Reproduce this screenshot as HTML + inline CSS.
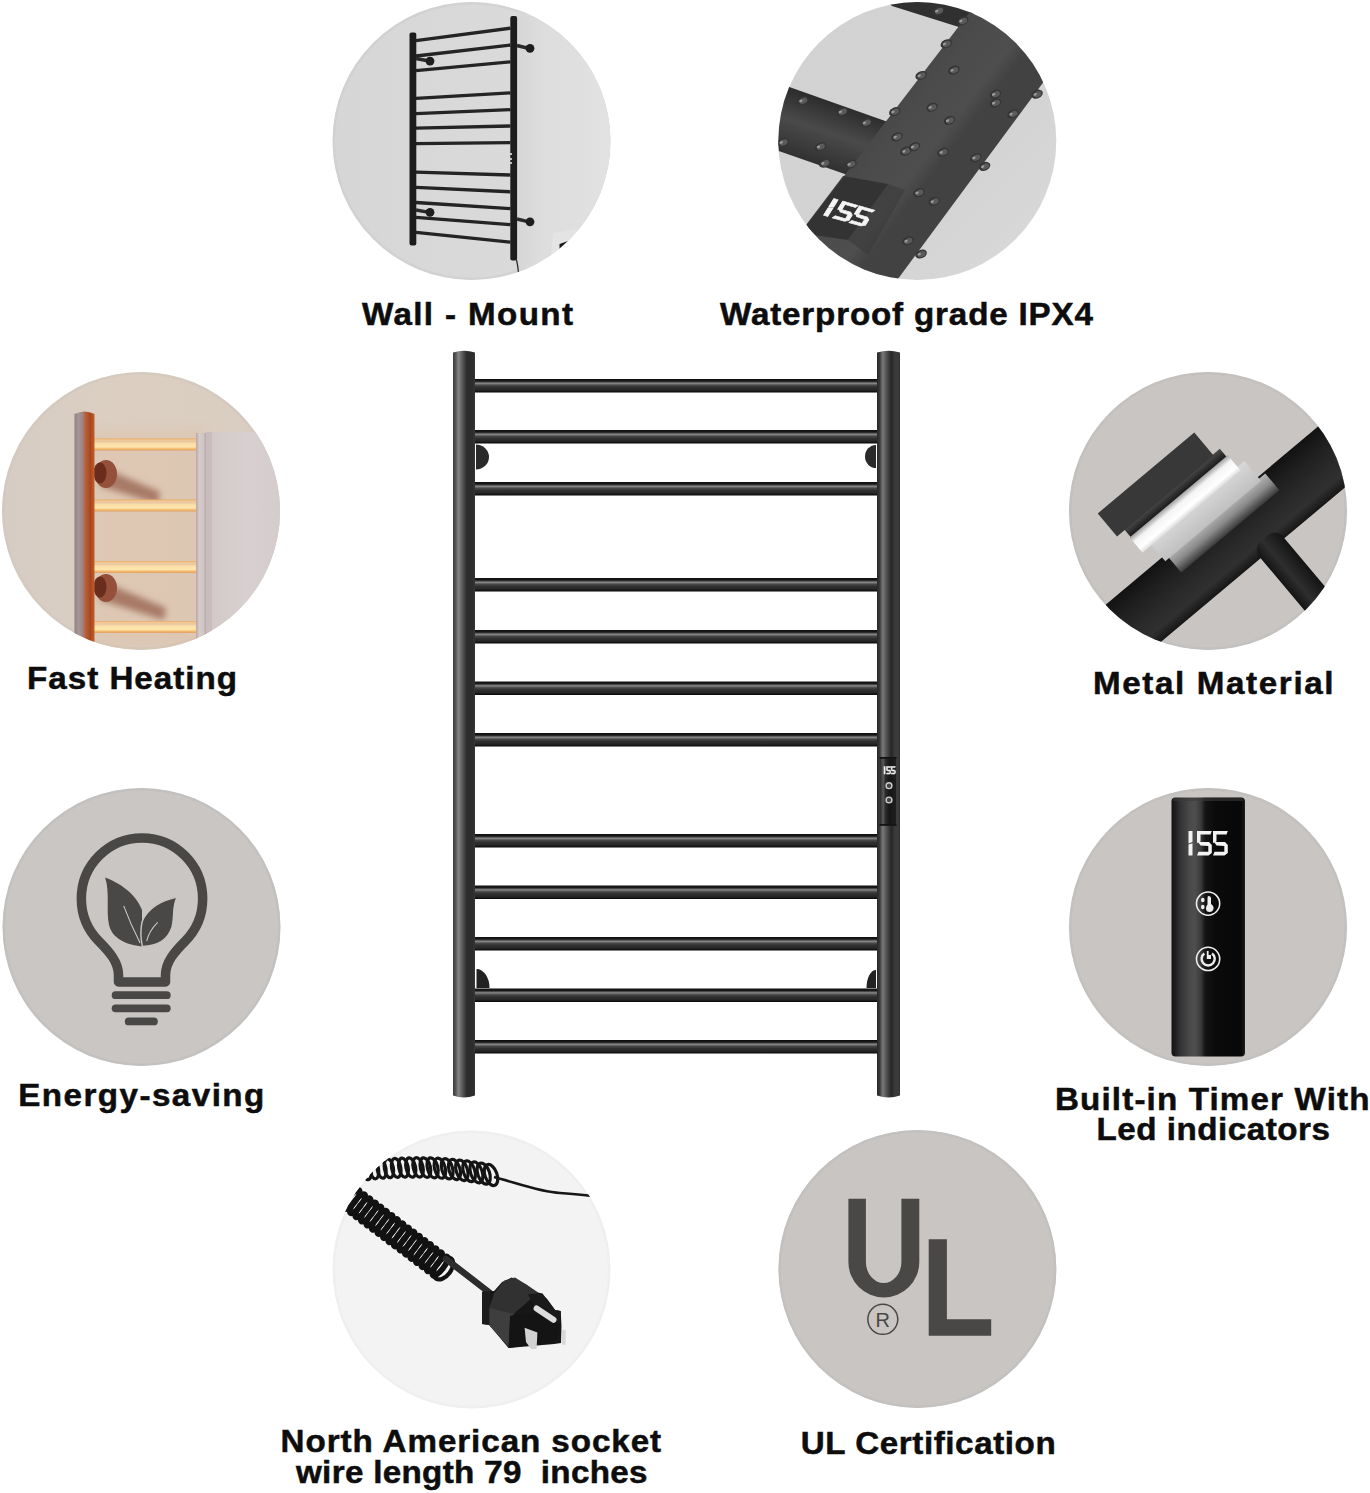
<!DOCTYPE html>
<html><head><meta charset="utf-8">
<style>
html,body{margin:0;padding:0;background:#fff;}
body{width:1370px;height:1493px;overflow:hidden;}
svg{display:block;}
.lbl{font-family:"Liberation Sans",sans-serif;font-weight:bold;font-size:31px;fill:#0d0d0d;stroke:#0d0d0d;stroke-width:0.5px;}
</style></head>
<body>
<svg width="1370" height="1493" viewBox="0 0 1370 1493">
<defs>
  <clipPath id="c1"><circle cx="471.5" cy="141" r="139"/></clipPath>
  <clipPath id="c2"><circle cx="917.3" cy="141" r="139"/></clipPath>
  <clipPath id="c3"><circle cx="141" cy="511" r="139"/></clipPath>
  <clipPath id="c4"><circle cx="1208" cy="511" r="139"/></clipPath>
  <clipPath id="c5"><circle cx="141.5" cy="927" r="139"/></clipPath>
  <clipPath id="c6"><circle cx="1208" cy="927" r="139"/></clipPath>
  <clipPath id="c7"><circle cx="471.5" cy="1269.5" r="139"/></clipPath>
  <clipPath id="c8"><circle cx="917.4" cy="1269" r="139"/></clipPath>
  <linearGradient id="postL" x1="0" x2="1" y1="0" y2="0">
    <stop offset="0" stop-color="#3a3a3a"/><stop offset="0.1" stop-color="#505050"/>
    <stop offset="0.25" stop-color="#858585"/><stop offset="0.42" stop-color="#5a5a5a"/>
    <stop offset="0.62" stop-color="#2e2e2e"/><stop offset="0.88" stop-color="#2c2c2c"/><stop offset="1" stop-color="#363636"/>
  </linearGradient>
  <linearGradient id="postR" x1="0" x2="1" y1="0" y2="0">
    <stop offset="0" stop-color="#262626"/><stop offset="0.12" stop-color="#3a3a3a"/>
    <stop offset="0.25" stop-color="#7a7a7a"/><stop offset="0.42" stop-color="#505050"/>
    <stop offset="0.62" stop-color="#262626"/><stop offset="0.78" stop-color="#3a3a3a"/><stop offset="0.95" stop-color="#3a3a3a"/><stop offset="1" stop-color="#2a2a2a"/>
  </linearGradient>
  <linearGradient id="rung" x1="0" x2="0" y1="0" y2="1">
    <stop offset="0" stop-color="#0e0e0e"/><stop offset="0.16" stop-color="#1a1a1a"/>
    <stop offset="0.32" stop-color="#8a8a8a"/><stop offset="0.46" stop-color="#484848"/>
    <stop offset="0.62" stop-color="#303030"/><stop offset="0.82" stop-color="#262626"/><stop offset="1" stop-color="#060606"/>
  </linearGradient>
  <linearGradient id="c1bg" x1="0" x2="1" y1="0" y2="0">
    <stop offset="0" stop-color="#d6d6d6"/><stop offset="0.5" stop-color="#d9d9d9"/><stop offset="1" stop-color="#dcdcdc"/>
  </linearGradient>
  <linearGradient id="c1bgR" x1="0" x2="1" y1="0" y2="0">
    <stop offset="0" stop-color="#d6d6d6"/><stop offset="0.25" stop-color="#dddddd"/><stop offset="1" stop-color="#e2e2e2"/>
  </linearGradient>
  <linearGradient id="c2bg" x1="0" x2="1" y1="0" y2="1">
    <stop offset="0" stop-color="#d2d2d2"/><stop offset="0.6" stop-color="#d3d3d3"/><stop offset="1" stop-color="#dadada"/>
  </linearGradient>
  <linearGradient id="c2tube" gradientUnits="userSpaceOnUse" x1="870" y1="80" x2="955" y2="145">
    <stop offset="0" stop-color="#3a3a3a"/><stop offset="0.12" stop-color="#454545"/><stop offset="0.5" stop-color="#4b4b4b"/><stop offset="0.85" stop-color="#4e4e4e"/><stop offset="1" stop-color="#424242"/>
  </linearGradient>
  <linearGradient id="c2side" gradientUnits="userSpaceOnUse" x1="790" y1="90" x2="770" y2="150">
    <stop offset="0" stop-color="#2e2e2e"/><stop offset="0.45" stop-color="#4a4a4a"/><stop offset="1" stop-color="#303030"/>
  </linearGradient>
  <filter id="blur6" x="-50%" y="-50%" width="200%" height="200%"><feGaussianBlur stdDeviation="6"/></filter>
  <filter id="blur3" x="-50%" y="-50%" width="200%" height="200%"><feGaussianBlur stdDeviation="3"/></filter>
  <linearGradient id="c3bg" x1="0" x2="1" y1="0" y2="0">
    <stop offset="0" stop-color="#d5ccc4"/><stop offset="0.4" stop-color="#dccfc2"/><stop offset="1" stop-color="#d9cdc1"/>
  </linearGradient>
  <linearGradient id="c3rung" x1="0" x2="0" y1="0" y2="1">
    <stop offset="0" stop-color="#e8a868"/><stop offset="0.12" stop-color="#f4c890"/><stop offset="0.25" stop-color="#e9c6a4"/>
    <stop offset="0.45" stop-color="#fbe0a8"/><stop offset="0.7" stop-color="#fde6b0"/><stop offset="0.9" stop-color="#f0b060"/><stop offset="1" stop-color="#e0a070"/>
  </linearGradient>
  <linearGradient id="c3post" x1="0" x2="1" y1="0" y2="0">
    <stop offset="0" stop-color="#8e8282"/><stop offset="0.2" stop-color="#a79696"/><stop offset="0.42" stop-color="#a08080"/>
    <stop offset="0.55" stop-color="#b86038"/><stop offset="0.8" stop-color="#a8461e"/><stop offset="1" stop-color="#c0602a"/>
  </linearGradient>
  <linearGradient id="c3postR" x1="0" x2="1" y1="0" y2="0">
    <stop offset="0" stop-color="#b8a6a2"/><stop offset="0.3" stop-color="#d6cccc"/><stop offset="0.7" stop-color="#cfc4c4"/><stop offset="1" stop-color="#a89898"/>
  </linearGradient>
  <linearGradient id="c3towel" x1="0" x2="1" y1="0" y2="0">
    <stop offset="0" stop-color="#d2c8c8"/><stop offset="0.5" stop-color="#d8d0d0"/><stop offset="1" stop-color="#d4cccc"/>
  </linearGradient>
  <linearGradient id="c4tube" x1="0" x2="0" y1="0" y2="1">
    <stop offset="0" stop-color="#121212"/><stop offset="0.25" stop-color="#1e1e1e"/><stop offset="0.6" stop-color="#2a2a2a"/>
    <stop offset="0.82" stop-color="#303030"/><stop offset="1" stop-color="#161616"/>
  </linearGradient>
  <linearGradient id="c4branch" x1="0" x2="1" y1="0" y2="0">
    <stop offset="0" stop-color="#141414"/><stop offset="0.4" stop-color="#2e2e2e"/><stop offset="1" stop-color="#141414"/>
  </linearGradient>
  <linearGradient id="c4l5" x1="0" x2="0" y1="0" y2="1">
    <stop offset="0" stop-color="#b4b4b4"/><stop offset="0.5" stop-color="#8a8a8a"/><stop offset="1" stop-color="#3a3a3a"/>
  </linearGradient>
  <linearGradient id="c4l4" x1="0" x2="0" y1="0" y2="1">
    <stop offset="0" stop-color="#d8d8d8"/><stop offset="1" stop-color="#c0c0c0"/>
  </linearGradient>
  <linearGradient id="c4l3" x1="0" x2="0" y1="0" y2="1">
    <stop offset="0" stop-color="#a0a0a0"/><stop offset="0.3" stop-color="#f4f4f4"/><stop offset="0.75" stop-color="#ffffff"/><stop offset="1" stop-color="#dcdcdc"/>
  </linearGradient>
  <linearGradient id="c4l2" x1="0" x2="0" y1="0" y2="1">
    <stop offset="0" stop-color="#4a4a4a"/><stop offset="1" stop-color="#1a1a1a"/>
  </linearGradient>
  <linearGradient id="c6ctl" x1="0" x2="1" y1="0" y2="0">
    <stop offset="0" stop-color="#141414"/><stop offset="0.05" stop-color="#1e1e1e"/><stop offset="0.12" stop-color="#333"/>
    <stop offset="0.25" stop-color="#4a4a4a"/><stop offset="0.32" stop-color="#4e4e4e"/><stop offset="0.4" stop-color="#3a3a3a"/>
    <stop offset="0.46" stop-color="#141414"/><stop offset="0.6" stop-color="#0a0a0a"/><stop offset="0.95" stop-color="#080808"/><stop offset="1" stop-color="#1e1e1e"/>
  </linearGradient>
  <linearGradient id="c7plug" x1="0" x2="1" y1="0" y2="1">
    <stop offset="0" stop-color="#333"/><stop offset="0.5" stop-color="#262626"/><stop offset="1" stop-color="#1a1a1a"/>
  </linearGradient>
<g id="d155">
    <!-- 1 -->
    <path d="M 0.0 0.0 L 4.0 0.0 L 4.0 11.0 L 0.0 12.5 Z"/>
    <path d="M 0.0 13.5 L 4.0 12.2 L 4.0 24.4 L 0.0 24.4 Z"/>
    <!-- 5 a -->
    <path d="M 8.5 0.0 L 23.3 0.0 L 22.0 3.5 L 12.0 3.5 L 12.0 10.5 L 8.5 12.0 Z"/>
    <path d="M 9.5 11.0 L 20.5 11.0 L 23.3 14.0 L 23.3 22.0 L 20.0 24.4 L 8.5 24.4 L 10.0 20.8 L 19.8 20.8 L 19.8 15.0 L 12.0 14.5 Z"/>
    <!-- 5 b -->
    <path d="M 24.5 0.0 L 39.3 0.0 L 38.0 3.5 L 28.0 3.5 L 28.0 10.5 L 24.5 12.0 Z"/>
    <path d="M 25.5 11.0 L 36.5 11.0 L 39.3 14.0 L 39.3 22.0 L 36.0 24.4 L 24.5 24.4 L 26.0 20.8 L 35.8 20.8 L 35.8 15.0 L 28.0 14.5 Z"/>
  </g>
  <linearGradient id="ctlR" x1="0" x2="1" y1="0" y2="0">
    <stop offset="0" stop-color="#2a2a2a"/><stop offset="0.2" stop-color="#5a5a5a"/><stop offset="0.35" stop-color="#2a2a2a"/><stop offset="0.6" stop-color="#161616"/><stop offset="1" stop-color="#1e1e1e"/>
  </linearGradient>
</defs>

<!-- ============ CENTRAL RACK ============ -->
<g id="rack">
  <g fill="url(#rung)">
    <rect x="474" y="379" width="405" height="13.5"/>
    <rect x="474" y="430" width="405" height="13.5"/>
    <rect x="474" y="482" width="405" height="13.5"/>
    <rect x="474" y="578" width="405" height="13.5"/>
    <rect x="474" y="630" width="405" height="13.5"/>
    <rect x="474" y="681.5" width="405" height="13.5"/>
    <rect x="474" y="733" width="405" height="13.5"/>
    <rect x="474" y="834" width="405" height="13.5"/>
    <rect x="474" y="885.5" width="405" height="13.5"/>
    <rect x="474" y="937" width="405" height="13.5"/>
    <rect x="474" y="988.5" width="405" height="13.5"/>
    <rect x="474" y="1040" width="405" height="13.5"/>
  </g>
  <path d="M453 352.5 Q464 349 475 352.5 L475 1095.5 Q464 1099.5 453 1095.5 Z" fill="url(#postL)"/>
  <path d="M877 352.5 Q888.5 349 900 352.5 L900 1095.5 Q888.5 1099.5 877 1095.5 Z" fill="url(#postR)"/>
  <!-- brackets -->
  <path d="M476 444.5 A13 12.5 0 0 1 476 469.5 Z" fill="#2a2a2a"/>
  <path d="M876 445 A11 11.5 0 0 0 876 468 Z" fill="#2a2a2a"/>
  <path d="M476.5 969 A13 19 0 0 1 489.5 988 L476.5 988 Z" fill="#222"/>
  <path d="M876 970 A9.5 18 0 0 0 866.5 988 L876 988 Z" fill="#222"/>
  <!-- controller -->
  <rect x="880" y="757.5" width="16" height="68" fill="url(#ctlR)"/>
  <rect x="879.5" y="757" width="17" height="1.8" fill="#141414"/>
  <rect x="879.5" y="824" width="17" height="1.8" fill="#141414"/>
  <use href="#d155" transform="translate(884 766.5) scale(0.29 0.31)" fill="#f0f0f0" stroke="#f0f0f0" stroke-width="2"/>
  <circle cx="889" cy="785.7" r="3.6" fill="#cfcfcf"/>
  <circle cx="889" cy="785.7" r="2.2" fill="#444"/>
  <circle cx="889" cy="800" r="3.6" fill="#cfcfcf"/>
  <circle cx="889" cy="800" r="2.2" fill="#444"/>
</g>

<!-- ============ LABELS ============ -->
<g class="lbl">
  <text transform="translate(362.0 325.0) scale(1.07 1)" x="0" y="0" textLength="197.2" lengthAdjust="spacing">Wall - Mount</text>
  <text transform="translate(720.0 325.0) scale(1.07 1)" x="0" y="0" textLength="348.6" lengthAdjust="spacing">Waterproof grade IPX4</text>
  <text transform="translate(27.0 688.5) scale(1.07 1)" x="0" y="0" textLength="196.3" lengthAdjust="spacing">Fast Heating</text>
  <text transform="translate(1093.0 693.8) scale(1.07 1)" x="0" y="0" textLength="224.8" lengthAdjust="spacing">Metal Material</text>
  <text transform="translate(18.3 1106.3) scale(1.07 1)" x="0" y="0" textLength="229.9" lengthAdjust="spacing">Energy-saving</text>
  <text transform="translate(1055.0 1109.8) scale(1.07 1)" x="0" y="0" textLength="293.9" lengthAdjust="spacing">Built-in Timer With</text>
  <text transform="translate(1096.4 1139.8) scale(1.07 1)" x="0" y="0" textLength="218.3" lengthAdjust="spacing">Led indicators</text>
  <text transform="translate(280.6 1452.3) scale(1.07 1)" x="0" y="0" textLength="355.6" lengthAdjust="spacing">North American socket</text>
  <text transform="translate(296.0 1482.5) scale(1.07 1)" x="0" y="0" textLength="328.5" lengthAdjust="spacing">wire length 79&#160; inches</text>
  <text transform="translate(800.7 1453.9) scale(1.07 1)" x="0" y="0" textLength="238.3" lengthAdjust="spacing">UL Certification</text>
</g>

<!-- ===== C1 Wall mount ===== -->
<g clip-path="url(#c1)">
  <rect x="330" y="0" width="285" height="285" fill="url(#c1bg)"/>
  <circle cx="471.5" cy="141" r="137.8" fill="none" stroke-width="2.5" stroke="#cfcfcf" opacity="0.7"/>
  <rect x="517" y="0" width="100" height="285" fill="url(#c1bgR)"/>
  <path d="M553 233 L577 229 L580 290 L548 290 Z" fill="#e4e4e4"/>
  <path d="M559.5 244 L568 241 L565 245.5 L559.5 249 Z" fill="#1a1a1a"/>
  <path d="M416 40.7 L510.5 28.2 M416 56.0 L510.5 45.0 M416 70.6 L510.5 61.8 M416 98.3 L510.5 92.9 M416 113.6 L510.5 109.7 M416 128.2 L510.5 126.0 M416 143.6 L510.5 142.6 M416 172.1 L510.5 175.0 M416 187.4 L510.5 191.8 M416 202.5 L510.5 208.6 M416 217.4 L510.5 224.7 M416 232.3 L510.5 242.2" stroke="#242424" stroke-width="3.3" fill="none"/>
  <rect x="409.5" y="32.5" width="6.8" height="213" rx="2" fill="#1c1c1c"/>
  <rect x="510.3" y="16" width="6.8" height="244.5" rx="2" fill="#1c1c1c"/>
  <path d="M517 45.5 L529 48.5 M517 219 L529 221.8 M416 58.5 L429 61 M416 210 L429 212.3" stroke="#2a2a2a" stroke-width="3.4"/>
  <circle cx="530" cy="48.3" r="4.4" fill="#1e1e1e"/>
  <circle cx="530" cy="221.8" r="4.4" fill="#1e1e1e"/>
  <circle cx="430" cy="61.1" r="4.4" fill="#1e1e1e"/>
  <circle cx="430" cy="212.3" r="4.4" fill="#1e1e1e"/>
  <path d="M511 153 v2 M511 158 v2 M511 162 v2" stroke="#eee" stroke-width="1.5"/>
  <path d="M516.5 260 Q518 266 518.5 273" stroke="#222" stroke-width="1.2" fill="none"/>
</g>
<!-- ===== C2 Waterproof ===== -->
<g clip-path="url(#c2)">
  <rect x="775" y="0" width="285" height="285" fill="url(#c2bg)"/>
  <path d="M880 -5 L990 -5 L962 28 L892 6 Z" fill="#303030"/>
  <path d="M760 76.7 L905 128 L905 195 L760 144.5 Z" fill="url(#c2side)"/>
  <path d="M979 0 L1104 0 L882.4 300 L749 300 Z" fill="url(#c2tube)"/>
  <path d="M800 233 L843 176 L888 184 L848 240 Z" fill="#2f2f2f" opacity="0.85"/>
  <path d="M848 240 L888 184 L905 190 L868 255 Z" fill="#3a3a3a" opacity="0.6"/>
<g transform="translate(938.6 10.9) rotate(-25)"><ellipse rx="6" ry="4.2" fill="#353535"/><ellipse cx="0.4" cy="0.3" rx="4.2" ry="2.8" fill="#5a5a5a"/><ellipse cx="-1.8" cy="-0.6" rx="1.8" ry="1.2" fill="#9a9a9a"/></g>
<g transform="translate(962.7 20.8) rotate(-25)"><ellipse rx="6" ry="4.2" fill="#353535"/><ellipse cx="0.4" cy="0.3" rx="4.2" ry="2.8" fill="#5a5a5a"/><ellipse cx="-1.8" cy="-0.6" rx="1.8" ry="1.2" fill="#9a9a9a"/></g>
<g transform="translate(946.3 43.8) rotate(-25)"><ellipse rx="6" ry="4.2" fill="#353535"/><ellipse cx="0.4" cy="0.3" rx="4.2" ry="2.8" fill="#5a5a5a"/><ellipse cx="-1.8" cy="-0.6" rx="1.8" ry="1.2" fill="#9a9a9a"/></g>
<g transform="translate(953.9 70.1) rotate(-25)"><ellipse rx="6" ry="4.2" fill="#353535"/><ellipse cx="0.4" cy="0.3" rx="4.2" ry="2.8" fill="#5a5a5a"/><ellipse cx="-1.8" cy="-0.6" rx="1.8" ry="1.2" fill="#9a9a9a"/></g>
<g transform="translate(921.1 75.5) rotate(-25)"><ellipse rx="6" ry="4.2" fill="#353535"/><ellipse cx="0.4" cy="0.3" rx="4.2" ry="2.8" fill="#5a5a5a"/><ellipse cx="-1.8" cy="-0.6" rx="1.8" ry="1.2" fill="#9a9a9a"/></g>
<g transform="translate(995.5 94.2) rotate(-25)"><ellipse rx="6" ry="4.2" fill="#353535"/><ellipse cx="0.4" cy="0.3" rx="4.2" ry="2.8" fill="#5a5a5a"/><ellipse cx="-1.8" cy="-0.6" rx="1.8" ry="1.2" fill="#9a9a9a"/></g>
<g transform="translate(995.5 102.9) rotate(-25)"><ellipse rx="6" ry="4.2" fill="#353535"/><ellipse cx="0.4" cy="0.3" rx="4.2" ry="2.8" fill="#5a5a5a"/><ellipse cx="-1.8" cy="-0.6" rx="1.8" ry="1.2" fill="#9a9a9a"/></g>
<g transform="translate(1037.1 94.2) rotate(-25)"><ellipse rx="6" ry="4.2" fill="#353535"/><ellipse cx="0.4" cy="0.3" rx="4.2" ry="2.8" fill="#5a5a5a"/><ellipse cx="-1.8" cy="-0.6" rx="1.8" ry="1.2" fill="#9a9a9a"/></g>
<g transform="translate(932.0 107.3) rotate(-25)"><ellipse rx="6" ry="4.2" fill="#353535"/><ellipse cx="0.4" cy="0.3" rx="4.2" ry="2.8" fill="#5a5a5a"/><ellipse cx="-1.8" cy="-0.6" rx="1.8" ry="1.2" fill="#9a9a9a"/></g>
<g transform="translate(949.5 120.4) rotate(-25)"><ellipse rx="6" ry="4.2" fill="#353535"/><ellipse cx="0.4" cy="0.3" rx="4.2" ry="2.8" fill="#5a5a5a"/><ellipse cx="-1.8" cy="-0.6" rx="1.8" ry="1.2" fill="#9a9a9a"/></g>
<g transform="translate(894.8 111.7) rotate(-25)"><ellipse rx="6" ry="4.2" fill="#353535"/><ellipse cx="0.4" cy="0.3" rx="4.2" ry="2.8" fill="#5a5a5a"/><ellipse cx="-1.8" cy="-0.6" rx="1.8" ry="1.2" fill="#9a9a9a"/></g>
<g transform="translate(897.0 136.9) rotate(-25)"><ellipse rx="6" ry="4.2" fill="#353535"/><ellipse cx="0.4" cy="0.3" rx="4.2" ry="2.8" fill="#5a5a5a"/><ellipse cx="-1.8" cy="-0.6" rx="1.8" ry="1.2" fill="#9a9a9a"/></g>
<g transform="translate(905.8 151.1) rotate(-25)"><ellipse rx="6" ry="4.2" fill="#353535"/><ellipse cx="0.4" cy="0.3" rx="4.2" ry="2.8" fill="#5a5a5a"/><ellipse cx="-1.8" cy="-0.6" rx="1.8" ry="1.2" fill="#9a9a9a"/></g>
<g transform="translate(914.5 146.7) rotate(-25)"><ellipse rx="6" ry="4.2" fill="#353535"/><ellipse cx="0.4" cy="0.3" rx="4.2" ry="2.8" fill="#5a5a5a"/><ellipse cx="-1.8" cy="-0.6" rx="1.8" ry="1.2" fill="#9a9a9a"/></g>
<g transform="translate(943.0 152.2) rotate(-25)"><ellipse rx="6" ry="4.2" fill="#353535"/><ellipse cx="0.4" cy="0.3" rx="4.2" ry="2.8" fill="#5a5a5a"/><ellipse cx="-1.8" cy="-0.6" rx="1.8" ry="1.2" fill="#9a9a9a"/></g>
<g transform="translate(975.8 157.7) rotate(-25)"><ellipse rx="6" ry="4.2" fill="#353535"/><ellipse cx="0.4" cy="0.3" rx="4.2" ry="2.8" fill="#5a5a5a"/><ellipse cx="-1.8" cy="-0.6" rx="1.8" ry="1.2" fill="#9a9a9a"/></g>
<g transform="translate(984.6 166.4) rotate(-25)"><ellipse rx="6" ry="4.2" fill="#353535"/><ellipse cx="0.4" cy="0.3" rx="4.2" ry="2.8" fill="#5a5a5a"/><ellipse cx="-1.8" cy="-0.6" rx="1.8" ry="1.2" fill="#9a9a9a"/></g>
<g transform="translate(802.8 100.7) rotate(-25)"><ellipse rx="6" ry="4.2" fill="#353535"/><ellipse cx="0.4" cy="0.3" rx="4.2" ry="2.8" fill="#5a5a5a"/><ellipse cx="-1.8" cy="-0.6" rx="1.8" ry="1.2" fill="#9a9a9a"/></g>
<g transform="translate(842.3 111.7) rotate(-25)"><ellipse rx="6" ry="4.2" fill="#353535"/><ellipse cx="0.4" cy="0.3" rx="4.2" ry="2.8" fill="#5a5a5a"/><ellipse cx="-1.8" cy="-0.6" rx="1.8" ry="1.2" fill="#9a9a9a"/></g>
<g transform="translate(866.3 122.6) rotate(-25)"><ellipse rx="6" ry="4.2" fill="#353535"/><ellipse cx="0.4" cy="0.3" rx="4.2" ry="2.8" fill="#5a5a5a"/><ellipse cx="-1.8" cy="-0.6" rx="1.8" ry="1.2" fill="#9a9a9a"/></g>
<g transform="translate(820.4 146.7) rotate(-25)"><ellipse rx="6" ry="4.2" fill="#353535"/><ellipse cx="0.4" cy="0.3" rx="4.2" ry="2.8" fill="#5a5a5a"/><ellipse cx="-1.8" cy="-0.6" rx="1.8" ry="1.2" fill="#9a9a9a"/></g>
<g transform="translate(824.7 163.1) rotate(-25)"><ellipse rx="6" ry="4.2" fill="#353535"/><ellipse cx="0.4" cy="0.3" rx="4.2" ry="2.8" fill="#5a5a5a"/><ellipse cx="-1.8" cy="-0.6" rx="1.8" ry="1.2" fill="#9a9a9a"/></g>
<g transform="translate(783.1 142.3) rotate(-25)"><ellipse rx="6" ry="4.2" fill="#353535"/><ellipse cx="0.4" cy="0.3" rx="4.2" ry="2.8" fill="#5a5a5a"/><ellipse cx="-1.8" cy="-0.6" rx="1.8" ry="1.2" fill="#9a9a9a"/></g>
<g transform="translate(851.0 164.2) rotate(-25)"><ellipse rx="6" ry="4.2" fill="#353535"/><ellipse cx="0.4" cy="0.3" rx="4.2" ry="2.8" fill="#5a5a5a"/><ellipse cx="-1.8" cy="-0.6" rx="1.8" ry="1.2" fill="#9a9a9a"/></g>
<g transform="translate(918.9 192.7) rotate(-25)"><ellipse rx="6" ry="4.2" fill="#353535"/><ellipse cx="0.4" cy="0.3" rx="4.2" ry="2.8" fill="#5a5a5a"/><ellipse cx="-1.8" cy="-0.6" rx="1.8" ry="1.2" fill="#9a9a9a"/></g>
<g transform="translate(934.2 201.4) rotate(-25)"><ellipse rx="6" ry="4.2" fill="#353535"/><ellipse cx="0.4" cy="0.3" rx="4.2" ry="2.8" fill="#5a5a5a"/><ellipse cx="-1.8" cy="-0.6" rx="1.8" ry="1.2" fill="#9a9a9a"/></g>
<g transform="translate(907.9 240.9) rotate(-25)"><ellipse rx="6" ry="4.2" fill="#353535"/><ellipse cx="0.4" cy="0.3" rx="4.2" ry="2.8" fill="#5a5a5a"/><ellipse cx="-1.8" cy="-0.6" rx="1.8" ry="1.2" fill="#9a9a9a"/></g>
<g transform="translate(921.1 254.0) rotate(-25)"><ellipse rx="6" ry="4.2" fill="#353535"/><ellipse cx="0.4" cy="0.3" rx="4.2" ry="2.8" fill="#5a5a5a"/><ellipse cx="-1.8" cy="-0.6" rx="1.8" ry="1.2" fill="#9a9a9a"/></g>
<g transform="translate(1013.0 113.9) rotate(-25)"><ellipse rx="6" ry="4.2" fill="#353535"/><ellipse cx="0.4" cy="0.3" rx="4.2" ry="2.8" fill="#5a5a5a"/><ellipse cx="-1.8" cy="-0.6" rx="1.8" ry="1.2" fill="#9a9a9a"/></g>
  <use href="#d155" transform="translate(834 198.5) rotate(16) skewX(-16) scale(1.08 0.78)" fill="#f4f4f4" stroke="#f4f4f4" stroke-width="0.9" stroke-linejoin="round"/>
</g>
<!-- ===== C3 Fast heating ===== -->
<g clip-path="url(#c3)">
  <rect x="0" y="370" width="285" height="285" fill="url(#c3bg)"/>
  <circle cx="141" cy="511" r="137.8" fill="none" stroke-width="2.5" stroke="#cfc6bd" opacity="0.6"/>
  <!-- glow on wall -->
  <rect x="92" y="430" width="110" height="220" fill="#e2b48c" opacity="0.25" filter="url(#blur6)"/>
  <!-- bracket shadows -->
  <path d="M104 468 L160 492 L158 504 L100 486 Z" fill="#9a6652" opacity="0.8" filter="url(#blur3)"/>
  <path d="M104 582 L166 608 L164 620 L100 600 Z" fill="#9a6652" opacity="0.8" filter="url(#blur3)"/>
  <!-- brackets -->
  <ellipse cx="106" cy="474" rx="11" ry="14" fill="#94503a"/>
  <ellipse cx="100" cy="473" rx="6.5" ry="10.5" fill="#6a2c1c"/>
  <ellipse cx="106" cy="588" rx="11" ry="14" fill="#94503a"/>
  <ellipse cx="100" cy="587" rx="6.5" ry="10.5" fill="#6a2c1c"/>
  <!-- rungs -->
  <g>
    <rect x="94" y="438.5" width="104" height="12" fill="url(#c3rung)"/>
    <rect x="94" y="499.5" width="104" height="12" fill="url(#c3rung)"/>
    <rect x="94" y="561" width="104" height="12" fill="url(#c3rung)"/>
    <rect x="94" y="621" width="104" height="12" fill="url(#c3rung)"/>
  </g>
  <!-- left post -->
  <path d="M74.5 414 Q84.5 409 94.5 414 L94.5 660 L74.5 660 Z" fill="url(#c3post)"/>
  <!-- right post -->
  <rect x="196" y="433" width="11" height="230" fill="url(#c3postR)"/>
  <!-- towel -->
  <rect x="206" y="432" width="80" height="230" fill="url(#c3towel)"/>
  <path d="M206 432 L212 432 L212 662 L206 662 Z" fill="#c9bcbc"/>
</g>
<!-- ===== C4 Metal ===== -->
<g clip-path="url(#c4)">
  <rect x="1065" y="370" width="285" height="285" fill="#c8c5c2"/>
  <circle cx="1208" cy="511" r="137.8" fill="none" stroke-width="2.5" stroke="#c0bfbe" opacity="0.7"/>
  <g transform="translate(1208 511) rotate(-40)">
    <rect x="-260" y="6" width="520" height="64" fill="url(#c4tube)"/>
    <rect x="10" y="57" width="31" height="130" rx="11" fill="url(#c4branch)"/>
    <rect x="-60" y="8" width="128" height="22" fill="url(#c4l5)"/>
    <rect x="-65" y="-15" width="125" height="26" fill="url(#c4l4)"/>
    <rect x="-77" y="-30" width="128" height="20" fill="url(#c4l3)"/>
    <rect x="-76" y="-40" width="125" height="10" fill="url(#c4l2)"/>
    <rect x="-86" y="-69" width="126" height="30" fill="#383838"/>
  </g>
</g>
<!-- ===== C5 Energy ===== -->
<g clip-path="url(#c5)">
  <rect x="0" y="785" width="285" height="285" fill="#c9c6c3"/>
  <circle cx="141.5" cy="927" r="137.8" fill="none" stroke-width="2.5" stroke="#c0bfbe" opacity="0.7"/>
  <path d="M165.5 982 L165.5 975 C165.5 962 175 951.3 185 941.3 A60.65 60.65 0 1 0 99 941.3 C109 951.3 118.5 962 118.5 975 L118.5 982 Z" fill="none" stroke="#4a4846" stroke-width="9.5" stroke-linejoin="round"/>
  <rect x="111.7" y="991.3" width="59" height="7.8" rx="3.9" fill="#4a4846"/>
  <rect x="111.7" y="1004.4" width="59" height="7.8" rx="3.9" fill="#4a4846"/>
  <rect x="124.8" y="1017.5" width="33" height="7.8" rx="3.9" fill="#4a4846"/>
  <path d="M105.1 877.4 C118 882 136 893 142 910 L142 946.4 C126 945 112 938 109 925 C106 910 110 892 105.1 877.4 Z" fill="#4a4846"/>
  <path d="M177.4 897.1 C162 900 147 908 142 922 C140 932 141 940 142.3 946.4 C158 946 168 940 172 927 C175 915 172 905 177.4 897.1 Z" fill="#4a4846" stroke="#c9c6c3" stroke-width="1.4"/>
  <path d="M123.7 905.9 C129 920 135 933 140.1 943" stroke="#c9c6c3" stroke-width="1.1" fill="none"/>
  <path d="M157.7 922.3 C152 928 148 935 146.7 941" stroke="#c9c6c3" stroke-width="1.1" fill="none"/>
</g>
<!-- ===== C6 Timer ===== -->
<g clip-path="url(#c6)">
  <rect x="1065" y="785" width="285" height="285" fill="#c8c5c2"/>
  <circle cx="1208" cy="927" r="137.8" fill="none" stroke-width="2.5" stroke="#c0bfbe" opacity="0.7"/>
  <rect x="1171.5" y="797.5" width="73.5" height="259" rx="4" fill="url(#c6ctl)"/>
  <rect x="1173" y="798" width="70" height="3" rx="1.5" fill="#3a3a3a" opacity="0.6"/>
  <use href="#d155" transform="translate(1188.5 831)" fill="#f2f2f2"/>
  <circle cx="1208.1" cy="903.6" r="11.6" fill="none" stroke="#eee" stroke-width="1.6"/>
  <g fill="#eee">
    <ellipse cx="1202.8" cy="900" rx="1.8" ry="2.2"/>
    <ellipse cx="1202.8" cy="907" rx="1.8" ry="2.2"/>
    <path d="M1208.5 896 Q1211 896 1211 898.5 L1211 904 Q1214 906 1213.5 909 Q1212.5 912 1209.8 912 Q1206 912 1206 908.5 Q1206 906 1207.5 904.5 L1207.5 898 Q1207.5 896 1208.5 896 Z"/>
  </g>
  <circle cx="1208.1" cy="958.9" r="11.6" fill="none" stroke="#eee" stroke-width="1.6"/>
  <path d="M1204.3 953.5 A6.6 6.6 0 1 0 1212 953.5" fill="none" stroke="#eee" stroke-width="2.4"/>
  <path d="M1206.8 951 L1208.6 951 L1208.6 955 L1211 955 L1211 959 L1206.8 959 Z" fill="#eee"/>
</g>
<!-- ===== C7 Plug ===== -->
<g clip-path="url(#c7)">
  <rect x="330" y="1128" width="285" height="285" fill="#f3f3f3"/>
  <circle cx="471.5" cy="1269.5" r="137.8" fill="none" stroke-width="2.5" stroke="#ececec" opacity="0.7"/>
  <g fill="none" stroke="#141414" stroke-width="3.2">
<ellipse cx="367.0" cy="1170.5" rx="4.2" ry="9.2" transform="rotate(-8.0 367.0 1170.5)"/>
<ellipse cx="374.3" cy="1169.6" rx="4.3" ry="9.3" transform="rotate(-8.7 374.3 1169.6)"/>
<ellipse cx="381.6" cy="1168.9" rx="4.4" ry="9.4" transform="rotate(-9.4 381.6 1168.9)"/>
<ellipse cx="388.9" cy="1168.3" rx="4.5" ry="9.5" transform="rotate(-10.1 388.9 1168.3)"/>
<ellipse cx="396.2" cy="1167.9" rx="4.6" ry="9.6" transform="rotate(-10.8 396.2 1167.9)"/>
<ellipse cx="403.5" cy="1167.6" rx="4.7" ry="9.7" transform="rotate(-11.5 403.5 1167.6)"/>
<ellipse cx="410.8" cy="1167.5" rx="4.8" ry="9.8" transform="rotate(-12.2 410.8 1167.5)"/>
<ellipse cx="418.1" cy="1167.4" rx="4.9" ry="9.9" transform="rotate(-12.9 418.1 1167.4)"/>
<ellipse cx="425.4" cy="1167.6" rx="5.0" ry="10.0" transform="rotate(-13.6 425.4 1167.6)"/>
<ellipse cx="432.6" cy="1167.8" rx="5.2" ry="10.2" transform="rotate(-14.4 432.6 1167.8)"/>
<ellipse cx="439.9" cy="1168.2" rx="5.3" ry="10.3" transform="rotate(-15.1 439.9 1168.2)"/>
<ellipse cx="447.2" cy="1168.8" rx="5.4" ry="10.4" transform="rotate(-15.8 447.2 1168.8)"/>
<ellipse cx="454.5" cy="1169.5" rx="5.5" ry="10.5" transform="rotate(-16.5 454.5 1169.5)"/>
<ellipse cx="461.8" cy="1170.3" rx="5.6" ry="10.6" transform="rotate(-17.2 461.8 1170.3)"/>
<ellipse cx="469.1" cy="1171.3" rx="5.7" ry="10.7" transform="rotate(-17.9 469.1 1171.3)"/>
<ellipse cx="476.4" cy="1172.4" rx="5.8" ry="10.8" transform="rotate(-18.6 476.4 1172.4)"/>
<ellipse cx="483.7" cy="1173.6" rx="5.9" ry="10.9" transform="rotate(-19.3 483.7 1173.6)"/>
<ellipse cx="491.0" cy="1175.0" rx="6.0" ry="11.0" transform="rotate(-20.0 491.0 1175.0)"/>
  </g>
  <path d="M494 1177 C520 1184 540 1192 560 1193 C575 1194 585 1195 592 1196" stroke="#161616" stroke-width="2.6" fill="none"/>
  <g fill="none" stroke="#121212" stroke-width="5.6">
<ellipse cx="352.0" cy="1199.5" rx="3.8" ry="11.8" transform="rotate(37.1 352.0 1199.5)"/>
<ellipse cx="357.5" cy="1203.7" rx="3.8" ry="11.8" transform="rotate(37.1 357.5 1203.7)"/>
<ellipse cx="363.0" cy="1207.8" rx="3.8" ry="11.8" transform="rotate(37.1 363.0 1207.8)"/>
<ellipse cx="368.5" cy="1212.0" rx="3.8" ry="11.8" transform="rotate(37.1 368.5 1212.0)"/>
<ellipse cx="374.0" cy="1216.1" rx="3.8" ry="11.8" transform="rotate(37.1 374.0 1216.1)"/>
<ellipse cx="379.5" cy="1220.3" rx="3.8" ry="11.8" transform="rotate(37.1 379.5 1220.3)"/>
<ellipse cx="385.0" cy="1224.4" rx="3.8" ry="11.8" transform="rotate(37.1 385.0 1224.4)"/>
<ellipse cx="390.5" cy="1228.6" rx="3.8" ry="11.8" transform="rotate(37.1 390.5 1228.6)"/>
<ellipse cx="396.0" cy="1232.8" rx="3.8" ry="11.8" transform="rotate(37.1 396.0 1232.8)"/>
<ellipse cx="401.5" cy="1236.9" rx="3.8" ry="11.8" transform="rotate(37.1 401.5 1236.9)"/>
<ellipse cx="407.0" cy="1241.1" rx="3.8" ry="11.8" transform="rotate(37.1 407.0 1241.1)"/>
<ellipse cx="412.5" cy="1245.2" rx="3.8" ry="11.8" transform="rotate(37.1 412.5 1245.2)"/>
<ellipse cx="418.0" cy="1249.4" rx="3.8" ry="11.8" transform="rotate(37.1 418.0 1249.4)"/>
<ellipse cx="423.5" cy="1253.5" rx="3.8" ry="11.8" transform="rotate(37.1 423.5 1253.5)"/>
<ellipse cx="429.0" cy="1257.7" rx="3.8" ry="11.8" transform="rotate(37.1 429.0 1257.7)"/>
<ellipse cx="434.5" cy="1261.8" rx="3.8" ry="11.8" transform="rotate(37.1 434.5 1261.8)"/>
<ellipse cx="440.0" cy="1266.0" rx="3.8" ry="11.8" transform="rotate(37.1 440.0 1266.0)"/>
<ellipse cx="443.5" cy="1268.5" rx="7.5" ry="12.5" stroke-width="4.2" transform="rotate(37.1 443.5 1268.5)"/>
  </g>
  <path d="M446 1259 L490 1293" stroke="#2c2c2c" stroke-width="6.5" stroke-linecap="round"/>
  <path d="M482 1291.7 L494.1 1291 L502.1 1282 L511.7 1277.6 L526.2 1284.5 L535.8 1291.7 L540.7 1293.3 L547.1 1298.9 L555.1 1310.1 L560.7 1311 L561.5 1326 L561 1343 L554.3 1344 L508.5 1348 L489.3 1325 L482 1324 Z" fill="#161616"/>
  <path d="M482 1291.7 L490 1291.7 L490 1325 L482 1324 Z" fill="#1c1c1c"/>
  <path d="M494.1 1293.3 L504.5 1280.4 L515 1277.6 L526.2 1284.5 L538.2 1292.5 L513.4 1314.2 L489.3 1307.7 Z" fill="#313131"/>
  <path d="M489.3 1307.7 L514.2 1314.2 L510.1 1317.4 L509.3 1347.5 L489.3 1325.4 Z" fill="#3e3e3e"/>
  <path d="M527.8 1294.1 L542.3 1293.3 L555.1 1310.1 L560.7 1311 L560.7 1324.6 L538.2 1313.4 Z" fill="#1a1a1a"/>
  <path d="M510.1 1315.8 L538.2 1313.4 L560.7 1324.6 L555.1 1341.5 L508.5 1348 Z" fill="#141414"/>
  <path d="M536.6 1308.5 L553.5 1319.8" stroke="#dedede" stroke-width="6" stroke-linecap="round"/>
  <path d="M524.6 1327.8 L537.4 1332.6 L536.6 1349 L531 1349 L526 1342 Z" fill="#d2d2d2"/>
  <path d="M562.3 1329.4 L565.9 1330.2 L565.5 1345.5 L561.5 1343.9 Z" fill="#d8d8d8"/>
</g>
<!-- ===== C8 UL ===== -->
<g clip-path="url(#c8)">
  <rect x="775" y="1128" width="285" height="285" fill="#c8c5c2"/>
  <circle cx="917.4" cy="1269" r="137.8" fill="none" stroke-width="2.5" stroke="#c0bfbe" opacity="0.7"/>
  <path d="M848.4 1198.8 L865.9 1198.8 L865.9 1262 A17.75 21 0 0 0 901.4 1262 L901.4 1198.8 L919.3 1198.8 L919.3 1262 A35.45 35.45 0 0 1 848.4 1262 Z" fill="#4a4846"/>
  <path d="M928.7 1239.3 L946.9 1239.3 L946.9 1319.3 L991.2 1319.3 L991.2 1335.7 L928.7 1335.7 Z" fill="#4a4846"/>
  <circle cx="882.8" cy="1319.3" r="15" fill="none" stroke="#4a4846" stroke-width="1.5"/>
  <text x="882.8" y="1327" text-anchor="middle" font-family="Liberation Sans" font-size="20" fill="#4a4846">R</text>
</g>

</svg>
</body></html>
